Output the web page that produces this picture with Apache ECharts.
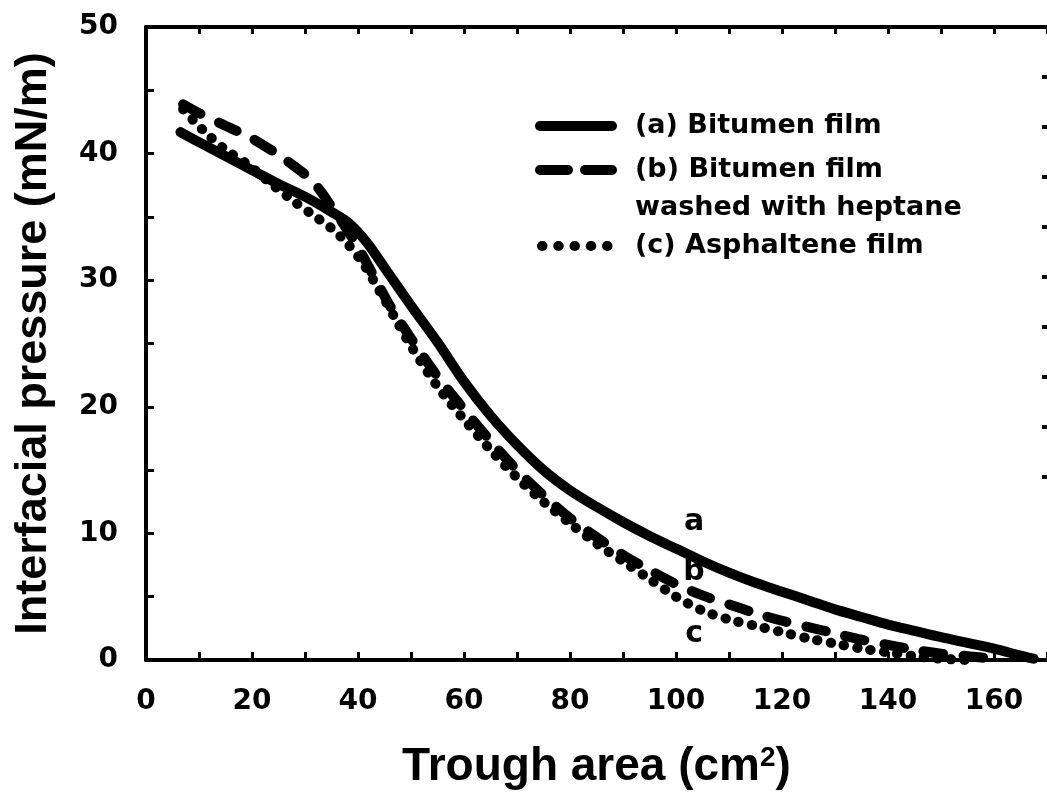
<html>
    <head>
        <meta charset="utf-8">
        <script src="https://cdn.jsdelivr.net/npm/echarts@6/dist/echarts.min.js"></script>
        <style>
            html, body { margin: 0; padding: 0; background: #fff; }
            #main { width: 1047px; height: 801px; }
        </style>
    </head>
    <body>
        <div id="main"></div>

        <script>

        // trough area (cm2), interfacial pressure (mN/m)
        var curveA = [
            [6.5, 41.7], [10, 40.9], [15, 39.8], [20, 38.7], [25, 37.6], [30, 36.6],
            [35, 35.4], [38, 34.6], [40, 33.8], [42, 32.8], [45, 31.0], [50, 28.0],
            [55, 25.1], [60, 22.0], [65, 19.3], [70, 17.0], [75, 15.0], [80, 13.4],
            [85, 12.1], [90, 10.9], [95, 9.8], [100, 8.8], [105, 7.8], [110, 6.9],
            [115, 6.1], [120, 5.4], [125, 4.7], [130, 4.0], [135, 3.4], [140, 2.8],
            [145, 2.3], [150, 1.8], [155, 1.35], [160, 0.9], [165, 0.35], [167.5, 0.1]
        ];
        var curveB = [
            [7, 43.9], [10, 43.2], [15, 42.2], [20, 41.2], [25, 39.9], [28, 39.0],
            [31, 38.0], [33, 37.0], [35, 35.8], [37, 34.6], [40, 32.6], [43, 30.3],
            [46, 28.0], [50, 25.4], [55, 22.4], [60, 19.8], [65, 17.3], [70, 15.0],
            [75, 13.0], [80, 11.2], [85, 9.7], [90, 8.3], [95, 7.1], [100, 6.0],
            [105, 5.1], [110, 4.4], [115, 3.7], [120, 3.1], [125, 2.6], [130, 2.1],
            [135, 1.6], [140, 1.2], [145, 0.8], [150, 0.5], [155, 0.3], [160, 0.1]
        ];
        var curveC = [
            [7, 43.5], [9, 42.6], [11.4, 41.6], [15, 40.3], [19, 39.2], [24, 37.5],
            [28, 36.2], [31, 35.3], [35, 34.1], [38, 32.9], [41, 31.3], [44, 29.2],
            [47, 27.0], [50, 24.8], [55, 21.6], [60, 19.0], [65, 16.6], [70, 14.4],
            [75, 12.5], [80, 10.8], [85, 9.2], [90, 7.8], [95, 6.4], [100, 5.0],
            [105, 3.9], [110, 3.2], [115, 2.7], [120, 2.2], [125, 1.7], [130, 1.3],
            [135, 0.9], [140, 0.6], [145, 0.3], [150, 0.1], [155, 0]
        ];

        var seriesNames = ['(a) Bitumen film', '(b) Bitumen film', '(c) Asphaltene film'];
        var curveTags = ['a', 'b', 'c'];
        var tagSpots = [[103.4, 10.9], [103.4, 6.9], [103.4, 2.0]];

        var tickFont = 'DejaVu Sans';
        var titleFont = 'Liberation Sans';

        function axisLine() {
            return { show: true, onZero: false, lineStyle: { color: '#000', width: 4 } };
        }

        function curve(name, data, dash, tagIdx) {
            return {
                type: 'line',
                name: name,
                data: data,
                xAxisIndex: 0,
                yAxisIndex: 0,
                symbol: 'none',
                smooth: 0.3,
                clip: false,
                itemStyle: { color: '#000' },
                lineStyle: { color: '#000', width: 10, type: dash, cap: 'round', join: 'round' },
                markPoint: {
                    symbol: 'circle',
                    symbolSize: 0,
                    animation: false,
                    label: {
                        show: true,
                        position: 'inside',
                        color: '#000',
                        fontFamily: tickFont,
                        fontWeight: 'bold',
                        fontSize: 30,
                        formatter: curveTags[tagIdx]
                    },
                    data: [{ coord: tagSpots[tagIdx] }]
                }
            };
        }

        var tickLine = { color: '#000', width: 3 };
        var mainRect = { left: 146, top: 27, right: -5, bottom: 141 };

        var option = {
            animation: false,
            backgroundColor: '#fff',
            grid: [
                mainRect,
                { left: 146, top: 27, right: -5, height: 450 },
                // same box again, only for inward ticks on bottom / left
                { left: 146, top: 27, right: -5, bottom: 141 }
            ],
            legend: [
                {
                    data: [
                        { name: seriesNames[0] },
                        { name: seriesNames[1], lineStyle: { type: [28, 17] } }
                    ],
                    orient: 'vertical',
                    left: 530,
                    top: 106,
                    itemWidth: 72,
                    itemHeight: 10,
                    itemGap: 14,
                    selectedMode: false,
                    itemStyle: { opacity: 0 },
                    lineStyle: { width: 10 },
                    textStyle: {
                        fontFamily: tickFont, fontWeight: 'bold', fontSize: 27,
                        color: '#000', lineHeight: 30, padding: [0, 0, 0, 18]
                    }
                },
                {
                    data: [{ name: seriesNames[2], lineStyle: { type: [0.5, 15.75] } }],
                    orient: 'vertical',
                    left: 532,
                    top: 226,
                    itemWidth: 72,
                    itemHeight: 10,
                    selectedMode: false,
                    itemStyle: { opacity: 0 },
                    lineStyle: { width: 10 },
                    textStyle: {
                        fontFamily: tickFont, fontWeight: 'bold', fontSize: 27,
                        color: '#000', lineHeight: 30, padding: [0, 0, 0, 16]
                    }
                }
            ],
            graphic: [
                {
                    type: 'text',
                    left: 635,
                    top: 194,
                    style: {
                        text: 'washed with heptane',
                        font: 'bold 27px "DejaVu Sans"',
                        fill: '#000'
                    }
                }
            ],
            xAxis: [
                {
                    type: 'value',
                    gridIndex: 0,
                    position: 'bottom',
                    min: 0,
                    max: 170,
                    interval: 20,
                    name: 'Trough area (cm{sup|2})',
                    nameLocation: 'middle',
                    nameGap: 84,
                    nameTextStyle: {
                        fontFamily: titleFont, fontWeight: 'bold', fontSize: 46, color: '#000',
                        rich: {
                            sup: { fontFamily: titleFont, fontWeight: 'bold', fontSize: 28, verticalAlign: 'top', color: '#000' }
                        }
                    },
                    axisLine: axisLine(),
                    axisTick: { show: false },
                    splitLine: { show: false },
                    axisLabel: {
                        showMaxLabel: false,
                        margin: 28,
                        color: '#000',
                        fontFamily: tickFont,
                        fontWeight: 'bold',
                        fontSize: 28
                    }
                },
                {
                    type: 'value',
                    gridIndex: 0,
                    position: 'top',
                    min: 0,
                    max: 170,
                    interval: 10,
                    axisLine: axisLine(),
                    axisTick: { inside: true, length: 7, lineStyle: tickLine },
                    axisLabel: { show: false },
                    splitLine: { show: false }
                },
                {
                    type: 'value',
                    gridIndex: 1,
                    show: false,
                    min: 0,
                    max: 1
                },
                {
                    type: 'value',
                    gridIndex: 2,
                    position: 'bottom',
                    min: 0,
                    max: 170,
                    interval: 10,
                    axisLine: { show: false, onZero: false },
                    axisTick: { inside: true, length: 8, lineStyle: tickLine },
                    axisLabel: { show: false },
                    splitLine: { show: false }
                }
            ],
            yAxis: [
                {
                    type: 'value',
                    gridIndex: 0,
                    position: 'left',
                    min: 0,
                    max: 50,
                    interval: 10,
                    name: 'Interfacial pressure (mN/m)',
                    nameLocation: 'middle',
                    nameRotate: 90,
                    nameGap: 90,
                    nameTextStyle: { fontFamily: titleFont, fontWeight: 'bold', fontSize: 45, color: '#000' },
                    axisLine: axisLine(),
                    axisTick: { show: false },
                    splitLine: { show: false },
                    axisLabel: {
                        margin: 28,
                        color: '#000',
                        fontFamily: tickFont,
                        fontWeight: 'bold',
                        fontSize: 28
                    }
                },
                {
                    // stray tick marks along the cropped right edge
                    type: 'value',
                    gridIndex: 1,
                    position: 'right',
                    inverse: true,
                    min: 0,
                    max: 9,
                    interval: 1,
                    axisLine: { show: false, onZero: false },
                    axisTick: { show: true, inside: true, length: 5, lineStyle: { color: '#000', width: 4 } },
                    axisLabel: { show: false },
                    splitLine: { show: false }
                },
                {
                    type: 'value',
                    gridIndex: 2,
                    position: 'left',
                    min: 0,
                    max: 50,
                    interval: 5,
                    axisLine: { show: false, onZero: false },
                    axisTick: { inside: true, length: 8, lineStyle: tickLine },
                    axisLabel: { show: false },
                    splitLine: { show: false }
                }
            ],
            series: [
                curve(seriesNames[0], curveA, 'solid', 0),
                curve(seriesNames[1], curveB, [20, 20], 1),
                curve(seriesNames[2], curveC, [0.5, 13], 2)
            ]
        };

        var myChart = echarts.init(document.getElementById('main'));
        myChart.setOption(option);

        </script>
    </body>
</html>
